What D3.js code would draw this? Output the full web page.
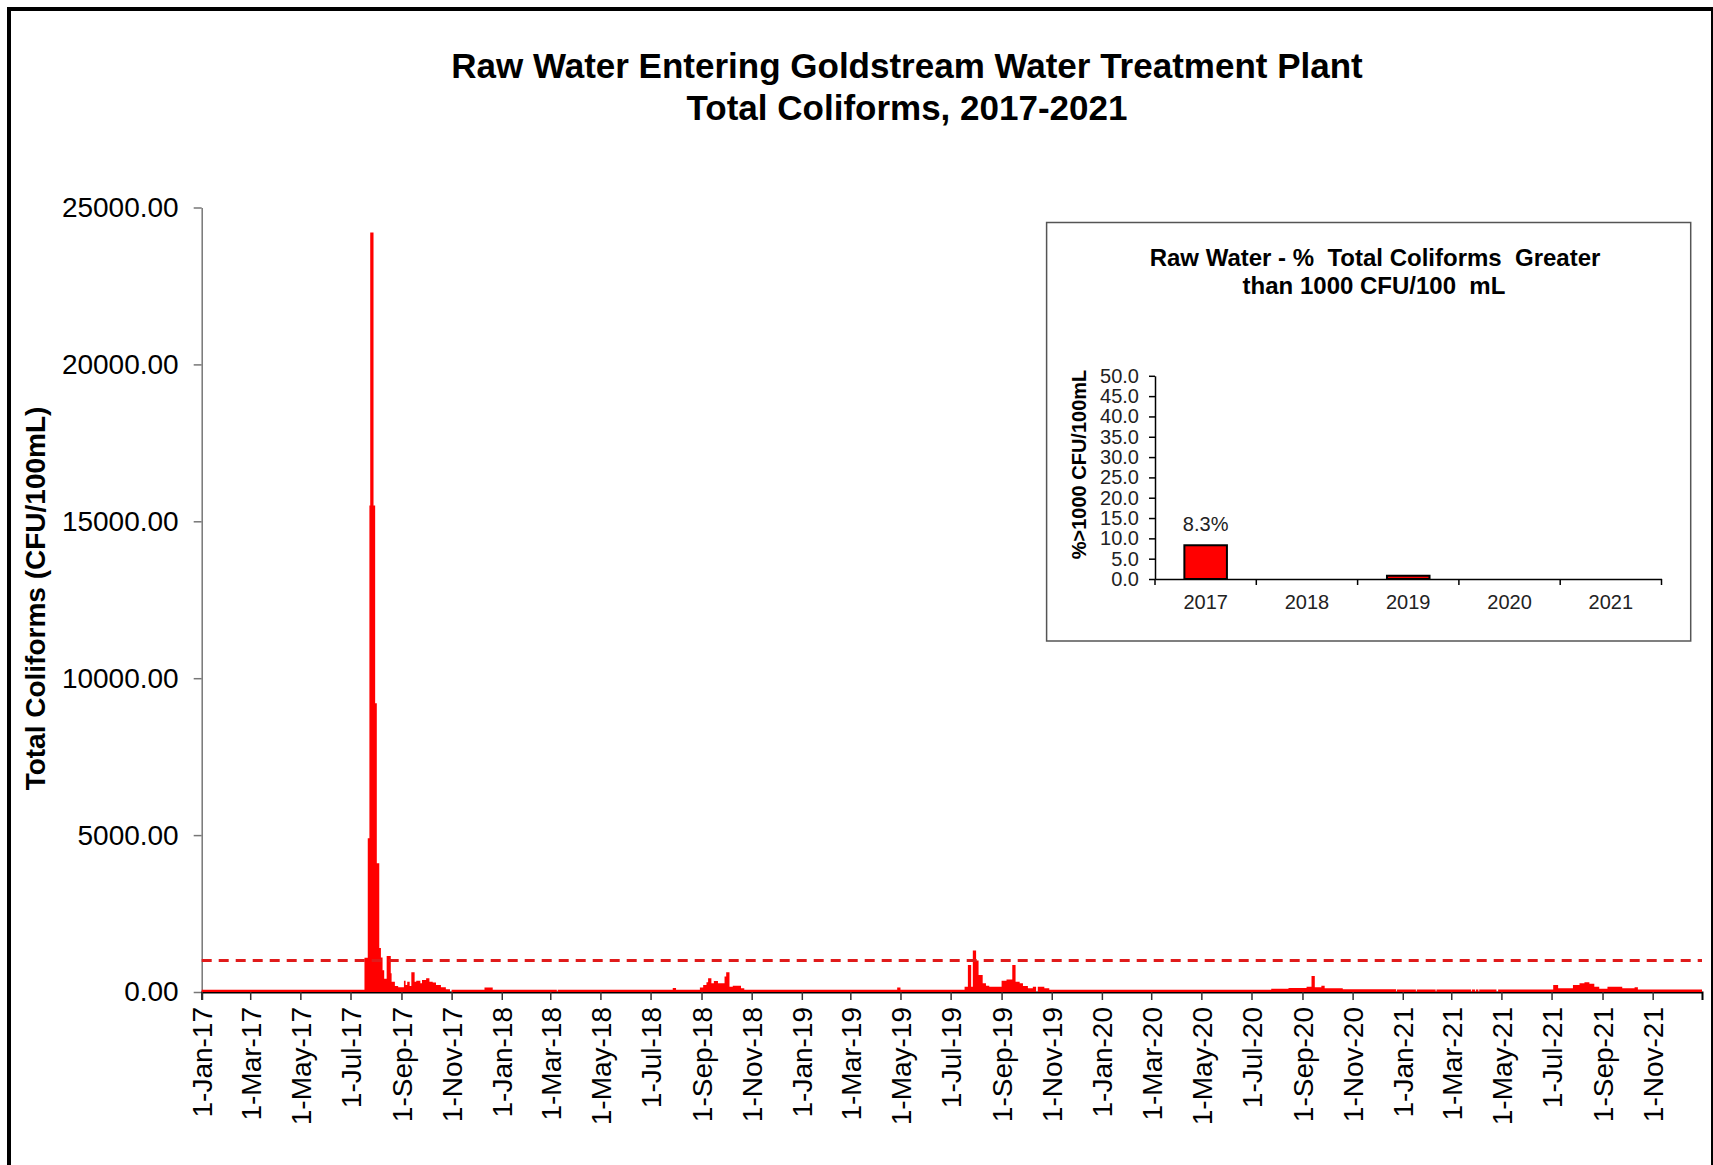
<!DOCTYPE html>
<html>
<head>
<meta charset="utf-8">
<script src="https://cdn.jsdelivr.net/npm/d3@7"></script>
<style>
  body { margin: 0; background: #fff; }
  svg { display: block; font-family: "Liberation Sans", Arial, sans-serif; }
</style>
</head>
<body>
<svg id="chart"></svg>
<script>
// daily total coliforms, written as change points: value holds until the next date
const data2017 = [
  ["2017-01-01", 70], ["2017-07-18", 1090], ["2017-07-22", 4900], ["2017-07-24", 15500],
  ["2017-07-25", 24200], ["2017-07-29", 15500], ["2017-07-31", 9200], ["2017-08-02", 4100],
  ["2017-08-05", 1400], ["2017-08-07", 1100], ["2017-08-09", 690], ["2017-08-11", 420],
  ["2017-08-14", 1150], ["2017-08-19", 600], ["2017-08-20", 330], ["2017-08-24", 190],
  ["2017-08-28", 150], ["2017-09-04", 360], ["2017-09-06", 220], ["2017-09-08", 330],
  ["2017-09-11", 190], ["2017-09-13", 630], ["2017-09-17", 330], ["2017-09-19", 360],
  ["2017-09-24", 280], ["2017-09-26", 380], ["2017-10-01", 440], ["2017-10-05", 330],
  ["2017-10-09", 300], ["2017-10-13", 220], ["2017-10-19", 150], ["2017-10-25", 85],
  ["2017-10-30", 0], ["2017-11-01", 70], ["2017-12-11", 140], ["2017-12-21", 70]
];
const data2018 = [
  ["2018-01-01", 70], ["2018-03-09", 0], ["2018-03-10", 70], ["2018-07-28", 130],
  ["2018-08-01", 70], ["2018-08-30", 140], ["2018-09-03", 220], ["2018-09-07", 310],
  ["2018-09-09", 440], ["2018-09-13", 280], ["2018-09-16", 350], ["2018-09-21", 280],
  ["2018-09-29", 490], ["2018-10-01", 630], ["2018-10-05", 170], ["2018-10-09", 200],
  ["2018-10-19", 120], ["2018-10-23", 70]
];
const data2019 = [
  ["2019-01-01", 70], ["2019-04-27", 140], ["2019-05-01", 70], ["2019-07-18", 170],
  ["2019-07-22", 860], ["2019-07-26", 170], ["2019-07-28", 1320], ["2019-08-01", 1000],
  ["2019-08-04", 540], ["2019-08-09", 280], ["2019-08-13", 200], ["2019-08-17", 170],
  ["2019-09-01", 360], ["2019-09-07", 400], ["2019-09-14", 860], ["2019-09-18", 330],
  ["2019-09-23", 280], ["2019-09-27", 190], ["2019-10-03", 120], ["2019-10-09", 170],
  ["2019-10-13", 0], ["2019-10-15", 170], ["2019-10-23", 120], ["2019-10-29", 70]
];
const data2020 = [
  ["2020-01-01", 70], ["2020-07-25", 100], ["2020-08-15", 130], ["2020-09-06", 170],
  ["2020-09-12", 510], ["2020-09-16", 150], ["2020-09-24", 200], ["2020-09-28", 120],
  ["2020-10-20", 90], ["2020-12-24", 0], ["2020-12-25", 80]
];
const data2021 = [
  ["2021-01-01", 80], ["2021-01-17", 0], ["2021-01-18", 80], ["2021-02-10", 0],
  ["2021-02-11", 80], ["2021-03-25", 0], ["2021-03-26", 80], ["2021-03-30", 0],
  ["2021-03-31", 80], ["2021-04-03", 0], ["2021-04-04", 80], ["2021-04-25", 0],
  ["2021-04-27", 80], ["2021-07-03", 220], ["2021-07-09", 120], ["2021-07-27", 220],
  ["2021-08-04", 280], ["2021-08-10", 310], ["2021-08-16", 260], ["2021-08-22", 170],
  ["2021-08-28", 100], ["2021-09-07", 170], ["2021-09-25", 120], ["2021-10-10", 150],
  ["2021-10-14", 80]
];
const yTicks = [0, 5000, 10000, 15000, 20000, 25000];
const threshold = 1000;

// inset: % of samples over 1000 CFU/100 mL
const years = ["2017", "2018", "2019", "2020", "2021"];
const pctOver = [8.3, 0, 0.8, 0, 0];
const pctLabels = ["8.3%", "", "", "", ""];
const insetTicks = [0, 5, 10, 15, 20, 25, 30, 35, 40, 45, 50];

const W = 1713, H = 1165;
const red = "#ff0000";

let svg = d3.select("#chart").attr("width", W).attr("height", H);

svg.append("rect").attr("width", W).attr("height", H).attr("fill", "#fff");
svg.append("rect")
  .attr("x", 9).attr("y", 9).attr("width", W - 9).attr("height", H + 40)
  .attr("fill", "none").attr("stroke", "#000").attr("stroke-width", 4);

// titles
let title = svg.append("g")
  .attr("font-weight", "bold").attr("font-size", 35).attr("text-anchor", "middle");
title.append("text").attr("x", 907).attr("y", 78)
  .text("Raw Water Entering Goldstream Water Treatment Plant");
title.append("text").attr("x", 907).attr("y", 119.5)
  .text("Total Coliforms, 2017-2021");

let parse = d3.utcParse("%Y-%m-%d");
let series = [].concat(data2017, data2018, data2019, data2020, data2021)
  .map(([d, v]) => ({ date: parse(d), value: v }));

let x = d3.scaleUtc()
  .domain([parse("2017-01-01"), parse("2021-12-31")])
  .range([201.7, 1702]);
let y = d3.scaleLinear().domain([0, 25000]).range([992, 207.5]);

series.push({ date: x.domain()[1], value: series[series.length - 1].value });

// y axis
let yAxis = svg.append("g")
  .attr("transform", "translate(201.7,0)")
  .call(d3.axisLeft(y).tickValues(yTicks).tickFormat(d3.format(".2f"))
    .tickSize(8).tickSizeOuter(0).tickPadding(15));
yAxis.attr("font-size", 28).attr("font-family", null);
yAxis.select(".domain").attr("stroke", "#777").attr("stroke-width", 1.5);
yAxis.selectAll(".tick line").attr("stroke", "#777").attr("stroke-width", 1.5);
yAxis.selectAll(".tick text").attr("fill", "#000");

svg.append("text")
  .attr("transform", "translate(35,598.5) rotate(-90)")
  .attr("text-anchor", "middle").attr("dy", "0.35em")
  .attr("font-weight", "bold").attr("font-size", 28)
  .text("Total Coliforms (CFU/100mL)");

// x axis (drawn under the columns)
let xAxis = svg.append("g")
  .attr("transform", `translate(0,${y(0)})`)
  .call(d3.axisBottom(x)
    .tickValues(d3.utcMonth.every(2).range(x.domain()[0], x.domain()[1]))
    .tickFormat(d3.utcFormat("%-d-%b-%y"))
    .tickSize(8).tickSizeOuter(8));
xAxis.attr("font-size", 28).attr("font-family", null);
xAxis.select(".domain").attr("stroke", "#000").attr("stroke-width", 2);
xAxis.selectAll(".tick line").attr("stroke", "#333").attr("stroke-width", 1.5);
xAxis.selectAll(".tick text")
  .attr("fill", "#000")
  .attr("transform", "rotate(-90)")
  .attr("text-anchor", "end")
  .attr("x", -15).attr("y", 0).attr("dy", "0.35em");

// data as daily columns
svg.append("path")
  .datum(series)
  .attr("fill", red)
  .attr("d", d3.area()
    .curve(d3.curveStepAfter)
    .x(d => x(d.date))
    .y0(y(0))
    .y1(d => y(d.value)));

svg.append("line")
  .attr("x1", x.range()[0]).attr("x2", x.range()[1])
  .attr("y1", y(threshold)).attr("y2", y(threshold))
  .attr("stroke", "#e01b1b").attr("stroke-width", 3)
  .attr("stroke-dasharray", "10,7");

// inset chart
let inset = svg.append("g");
inset.append("rect")
  .attr("x", 1046.6).attr("y", 222.5).attr("width", 644.1).attr("height", 418.5)
  .attr("fill", "#fff").attr("stroke", "#555").attr("stroke-width", 1.5);

let insetTitle = inset.append("g")
  .attr("font-weight", "bold").attr("font-size", 24).attr("text-anchor", "middle");
insetTitle.append("text").attr("x", 1375).attr("y", 265.5)
  .attr("xml:space", "preserve")
  .text("Raw Water - %  Total Coliforms  Greater");
insetTitle.append("text").attr("x", 1374).attr("y", 293.5)
  .attr("xml:space", "preserve")
  .text("than 1000 CFU/100  mL");

let bx = d3.scaleBand().domain(years).range([1155, 1661.5])
  .paddingInner(0.58).paddingOuter(0.29);
let by = d3.scaleLinear().domain([0, 50]).range([579, 375.8]);

let iyAxis = inset.append("g")
  .attr("transform", "translate(1155,0)")
  .call(d3.axisLeft(by).tickValues(insetTicks).tickFormat(d3.format(".1f"))
    .tickSize(6).tickSizeOuter(0).tickPadding(10));
iyAxis.attr("font-size", 20).attr("font-family", null);
iyAxis.select(".domain").attr("stroke", "#000").attr("stroke-width", 1.5);
iyAxis.selectAll(".tick line").attr("stroke", "#000").attr("stroke-width", 1.5);
iyAxis.selectAll(".tick text").attr("fill", "#222");

inset.append("text")
  .attr("transform", "translate(1079,464.5) rotate(-90)")
  .attr("text-anchor", "middle").attr("dy", "0.35em")
  .attr("font-weight", "bold").attr("font-size", 20)
  .text("%>1000 CFU/100mL");

let bars = years.map((yr, i) => ({ year: yr, value: pctOver[i], label: pctLabels[i] }));

inset.selectAll("rect.bar")
  .data(bars.filter(d => d.value > 0))
  .join("rect")
  .attr("class", "bar")
  .attr("x", d => bx(d.year)).attr("width", bx.bandwidth())
  .attr("y", d => by(d.value)).attr("height", d => by(0) - by(d.value))
  .attr("fill", red).attr("stroke", "#000").attr("stroke-width", 2);

inset.selectAll("text.val")
  .data(bars.filter(d => d.label))
  .join("text")
  .attr("class", "val")
  .attr("x", d => bx(d.year) + bx.bandwidth() / 2)
  .attr("y", d => by(d.value) - 14)
  .attr("text-anchor", "middle").attr("font-size", 20).attr("fill", "#222")
  .text(d => d.label);

let ixAxis = inset.append("g")
  .attr("transform", `translate(0,${by(0)})`)
  .call(d3.axisBottom(bx).tickSize(0).tickPadding(16));
ixAxis.attr("font-size", 20).attr("font-family", null);
ixAxis.select(".domain").attr("stroke", "#000").attr("stroke-width", 1.5);
ixAxis.selectAll(".tick text").attr("fill", "#222");
ixAxis.selectAll("line.sep")
  .data(d3.range(years.length + 1))
  .join("line")
  .attr("class", "sep")
  .attr("x1", i => bx.range()[0] + i * bx.step())
  .attr("x2", i => bx.range()[0] + i * bx.step())
  .attr("y1", 0).attr("y2", 6)
  .attr("stroke", "#000").attr("stroke-width", 1.5);
</script>
</body>
</html>
